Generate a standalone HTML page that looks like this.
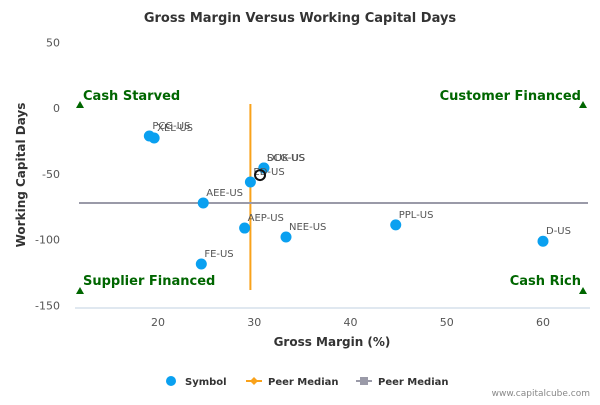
<!DOCTYPE html>
<html><head><meta charset="utf-8"><style>
body{margin:0;background:#fff;font-family:"Liberation Sans",sans-serif}
svg text{font-family:"DejaVu Sans","Liberation Sans",sans-serif}
</style></head><body>
<svg width="600" height="400" xmlns="http://www.w3.org/2000/svg" id="chart">
<text x="300" y="22" text-anchor="middle" font-size="13" font-weight="bold" fill="#333">Gross Margin Versus Working Capital Days</text>
<g id="axes"></g>
<g id="marks"></g>
<text x="332" y="346" text-anchor="middle" font-size="12" font-weight="bold" fill="#333">Gross Margin (%)</text>
<text transform="translate(25,175) rotate(-90)" text-anchor="middle" font-size="12" font-weight="bold" fill="#333">Working Capital Days</text>
<g font-size="10" font-weight="bold" fill="#333">
<g><circle cx="171" cy="381" r="5" fill="#0aa0f0"/><text x="185" y="385">Symbol</text></g>
<g><line x1="246" y1="381" x2="262" y2="381" stroke="#f9a21b" stroke-width="2"/><path d="M254 377 L258 381 L254 385 L250 381Z" fill="#f9a21b"/><text x="268" y="385">Peer Median</text></g>
<g><line x1="356" y1="381" x2="372" y2="381" stroke="#9a9aa8" stroke-width="2"/><rect x="360" y="377" width="8" height="8" fill="#9a9aa8"/><text x="378" y="385">Peer Median</text></g>
</g>
<text x="590" y="396" text-anchor="end" font-size="9" fill="#888">www.capitalcube.com</text>
</svg>
<script>
const tickX=[20,30,40,50,60];
const tickY=[50,0,-50,-100,-150];
const names=["PCG-US","XEL-US","SCG-US","DUK-US","ED-US","AEE-US","AEP-US","NEE-US","PPL-US","D-US","FE-US"];
const gm=[19.1,19.6,31.0,31.0,29.6,24.7,29.0,33.3,44.7,60.0,24.5];
const wcd=[-21.3,-22.8,-45.6,-45.6,-56.3,-72.2,-91.3,-98.1,-88.9,-101.3,-118.6];
const subjectX=[30.6];
const subjectY=[-51.0];
const medianX=[29.6];
const medianY=[-72.2];
const NS="http://www.w3.org/2000/svg";
const X=v=>158+(v-20)*9.625;
const Y=v=>108-v*1.315;
function mk(t,a,p){const e=document.createElementNS(NS,t);for(const k in a)e.setAttribute(k,a[k]);p.appendChild(e);return e;}
const ax=document.getElementById('axes'),mg=document.getElementById('marks');
const xl=mk('line',{x1:75,y1:308,x2:590,y2:308,stroke:'#c0d0e0'},ax);


tickX.forEach(v=>{const t=mk('text',{x:X(v),y:326,'text-anchor':'middle','font-size':11,fill:'#555'},ax);t.textContent=v;

});
tickY.forEach(v=>{const t=mk('text',{x:60,y:Y(v)+4,'text-anchor':'end','font-size':11,fill:'#555'},ax);t.textContent=v;

});
const vm=mk('line',{x1:X(medianX[0]),y1:104,x2:X(medianX[0]),y2:290,stroke:'#f9a21b','stroke-width':2},mg);


const hm=mk('line',{x1:79,y1:Y(medianY[0]),x2:588,y2:Y(medianY[0]),stroke:'#9a9aa8','stroke-width':2},mg);


[[80,105],[583,105],[80,291],[583,291]].forEach(p=>{const tr=mk('path',{d:`M${p[0]-4} ${p[1]+3}L${p[0]} ${p[1]-4}L${p[0]+4} ${p[1]+3}Z`,fill:'#006600'},mg);

});
[["Cash Starved",83,100,'start'],["Customer Financed",581,100,'end'],["Supplier Financed",83,285,'start'],["Cash Rich",581,285,'end']].forEach(q=>{const t=mk('text',{x:q[1],y:q[2],'text-anchor':q[3],'font-size':13,'font-weight':'bold',fill:'#006600'},mg);t.textContent=q[0];

});
names.forEach((n,i)=>{const c=mk('circle',{cx:X(gm[i]),cy:Y(wcd[i]),r:5.5,fill:'#0aa0f0'},mg);


const t=mk('text',{x:X(gm[i])+3,y:Y(wcd[i])-7,'font-size':10,fill:'#555'},mg);t.textContent=n;

});
const s=mk('circle',{cx:X(subjectX[0]),cy:Y(subjectY[0]),r:5,fill:'none',stroke:'#111','stroke-width':2},mg);


</script>
</body></html>
